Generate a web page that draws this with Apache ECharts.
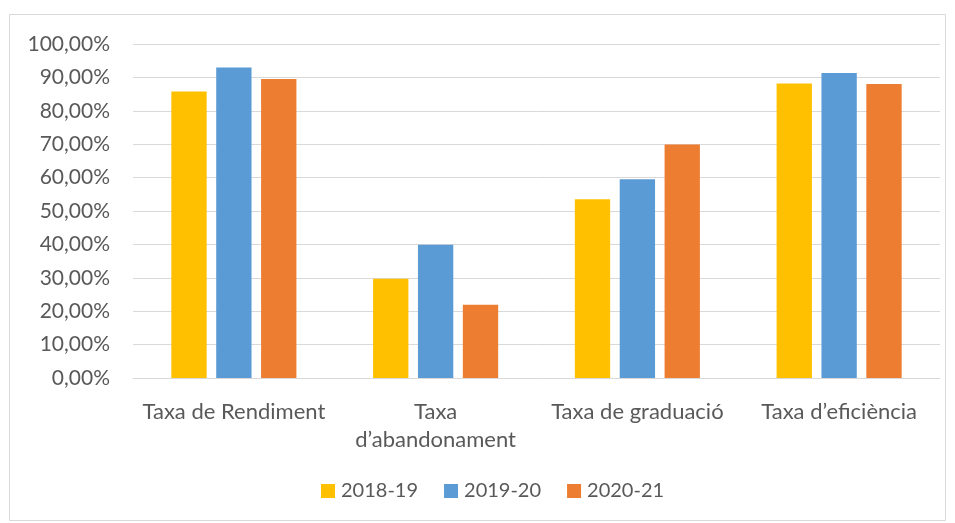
<!DOCTYPE html>
<html>
<head>
<meta charset="utf-8">
<script src="https://cdn.jsdelivr.net/npm/echarts@6/dist/echarts.min.js"></script>
<style>
  html, body { margin: 0; padding: 0; background: #fff; }
  #chart { width: 955px; height: 523px; }
</style>
</head>
<body>
<div id="chart"></div>
<script>
const categories = ['Taxa de Rendiment', 'Taxa\nd’abandonament', 'Taxa de graduació', 'Taxa d’eficiència'];
const seriesNames = ['2018-19', '2019-20', '2020-21'];
const values2018 = [85.8, 29.7, 53.5, 88.2];
const values2019 = [93.0, 39.9, 59.5, 91.3];
const values2020 = [89.5, 21.9, 69.9, 88.0];
const colors = ['#ffc000', '#5b9bd5', '#ed7d31'];

const FONT = 'Lato, "Open Sans", sans-serif';
const chart = echarts.init(document.getElementById('chart'), null, { renderer: 'canvas' });

const fmt = v => v.toFixed(2).replace('.', ',') + '%';

chart.setOption({
    animation: false,
    color: colors,
    textStyle: { fontFamily: FONT },
    graphic: [{
        type: 'rect',
        shape: { x: 9.5, y: 14.5, width: 936, height: 506 },
        style: { fill: 'none', stroke: '#d9d9d9', lineWidth: 1 },
        silent: true
    }],
    grid: { left: 133, right: 15, top: 44, bottom: 145 },
    legend: {
        bottom: 17,
        left: 316,
        padding: 5,
        itemWidth: 14,
        itemHeight: 14,
        itemGap: 26,
        icon: 'rect',
        textStyle: { color: '#595959', fontSize: 20, fontFamily: FONT, padding: [0, 0, 0, 1] },
        data: seriesNames
    },
    xAxis: {
        type: 'category',
        data: categories,
        axisLine: { lineStyle: { color: '#d9d9d9', width: 1 } },
        axisTick: { show: false },
        axisLabel: { color: '#595959', fontSize: 22, fontFamily: FONT, margin: 20, lineHeight: 28, interval: 0 }
    },
    yAxis: {
        type: 'value',
        min: 0,
        max: 100,
        interval: 10,
        axisLine: { show: false },
        axisTick: { show: false },
        splitLine: { lineStyle: { color: '#d9d9d9', width: 1 } },
        axisLabel: { color: '#595959', fontSize: 21, fontFamily: FONT, margin: 23, formatter: fmt }
    },
    series: [
        { name: seriesNames[0], type: 'bar', data: values2018, barGap: '27%', barCategoryGap: '38%' },
        { name: seriesNames[1], type: 'bar', data: values2019, barGap: '27%', barCategoryGap: '38%' },
        { name: seriesNames[2], type: 'bar', data: values2020, barGap: '27%', barCategoryGap: '38%' }
    ]
});
</script>
</body>
</html>
